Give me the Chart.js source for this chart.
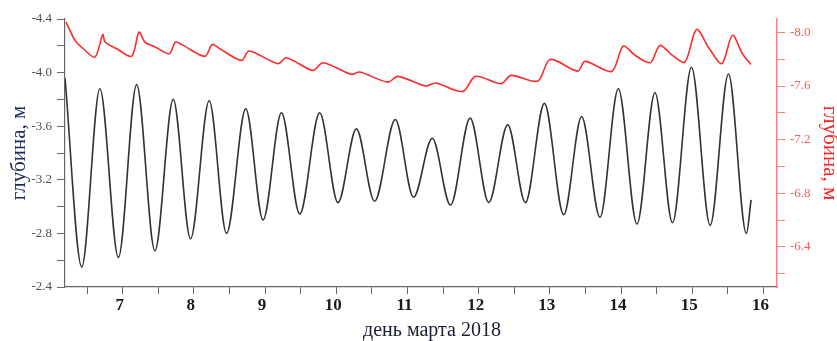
<!DOCTYPE html>
<html>
<head>
<meta charset="utf-8">
<script src="https://cdn.jsdelivr.net/npm/chart.js@4"></script>
<style>
  html, body { margin: 0; padding: 0; background: #ffffff; }
  #wrap { width: 837px; height: 341px; }
</style>
</head>
<body>
<div id="wrap"><canvas id="c" width="837" height="341"></canvas></div>
<script>
// ---- data ----
const blackDays = [6.19, 6.425, 6.68, 6.94, 7.196, 7.453, 7.71, 7.953, 8.215, 8.459, 8.729, 8.972, 9.23, 9.487, 9.767, 10.024, 10.282, 10.538, 10.829, 11.085, 11.348, 11.604, 11.88, 12.142, 12.408, 12.656, 12.923, 13.194, 13.446, 13.704, 13.961, 14.223, 14.476, 14.722, 14.989, 15.251, 15.508, 15.76, 15.826];
const blackDepth = [-3.96, -2.55, -3.88, -2.62, -3.91, -2.67, -3.80, -2.76, -3.79, -2.80, -3.73, -2.90, -3.70, -2.945, -3.70, -3.03, -3.58, -3.04, -3.65, -3.07, -3.51, -3.01, -3.66, -3.03, -3.61, -3.03, -3.77, -2.94, -3.67, -2.92, -3.88, -2.87, -3.85, -2.88, -4.04, -2.86, -3.99, -2.80, -3.05];

const redDays = [6.205, 6.33, 6.447, 6.61, 6.72, 6.752, 6.916, 7.126, 7.229, 7.313, 7.477, 7.654, 7.743, 7.85, 8.154, 8.257, 8.365, 8.669, 8.776, 9.18, 9.30, 9.673, 9.813, 10.21, 10.328, 10.725, 10.865, 11.254, 11.394, 11.777, 11.955, 12.315, 12.455, 12.83, 13.003, 13.39, 13.494, 13.867, 14.03, 14.2, 14.41, 14.545, 14.72, 14.896, 15.059, 15.24, 15.415, 15.564, 15.704, 15.822];
const redDepth = [-8.077, -7.94, -7.878, -7.816, -7.983, -7.928, -7.878, -7.823, -8.002, -7.928, -7.886, -7.841, -7.928, -7.903, -7.821, -7.910, -7.878, -7.791, -7.861, -7.766, -7.811, -7.716, -7.774, -7.687, -7.704, -7.629, -7.672, -7.600, -7.622, -7.560, -7.672, -7.617, -7.679, -7.637, -7.798, -7.711, -7.784, -7.709, -7.898, -7.828, -7.774, -7.903, -7.828, -7.778, -8.022, -7.878, -7.766, -7.978, -7.841, -7.761];

const xTicks = [6.5, 7, 7.5, 8, 8.5, 9, 9.5, 10, 10.5, 11, 11.5, 12, 12.5, 13, 13.5, 14, 14.5, 15, 15.5, 16];
const xLabels = ['', '7', '', '8', '', '9', '', '10', '', '11', '', '12', '', '13', '', '14', '', '15', '', '16'];
const leftTicks = [-4.4, -4.2, -4.0, -3.8, -3.6, -3.4, -3.2, -3.0, -2.8, -2.6, -2.4];
const leftLabels = ['-4.4', '', '-4.0', '', '-3.6', '', '-3.2', '', '-2.8', '', '-2.4'];
const rightTicks = [-8.0, -7.8, -7.6, -7.4, -7.2, -7.0, -6.8, -6.6, -6.4, -6.2];
const rightLabels = ['-8.0', '', '-7.6', '', '-7.2', '', '-6.8', '', '-6.4', ''];

const xTitle = 'день марта 2018';
const yTitle = 'глубина, м';

// ---- build ----
const blackPts = blackDays.map((d, i) => ({x: d, y: blackDepth[i]}));
const redPts = redDays.map((d, i) => ({x: d, y: redDepth[i]}));
const serif = 'Liberation Serif';

// x-axis title, drawn as canvas text slightly right of centre as in the reference
const xTitlePlugin = {
  id: 'xTitle',
  afterDraw(chart) {
    const ctx = chart.ctx;
    const xs = chart.scales.x;
    ctx.save();
    ctx.font = '20px "' + serif + '"';
    ctx.fillStyle = '#1b1d33';
    ctx.textAlign = 'center';
    ctx.textBaseline = 'middle';
    ctx.fillText(xTitle, (xs.left + xs.right) / 2 + 11, xs.bottom - 10);
    ctx.restore();
  }
};

new Chart(document.getElementById('c'), {
  type: 'line',
  data: {
    datasets: [
      { data: blackPts, yAxisID: 'y', borderColor: '#333333', borderWidth: 1.6,
        pointRadius: 0, cubicInterpolationMode: 'monotone', fill: false },
      { data: redPts, yAxisID: 'y2', borderColor: '#ff2b2b', borderWidth: 1.6,
        pointRadius: 0, tension: 0.3, fill: false }
    ]
  },
  plugins: [xTitlePlugin],
  options: {
    responsive: false,
    animation: false,
    devicePixelRatio: 1,
    layout: { padding: { top: 19, left: 0, right: 0, bottom: 0 } },
    plugins: { legend: { display: false }, tooltip: { enabled: false } },
    scales: {
      x: {
        type: 'linear', position: 'bottom', min: 6.19, max: 16.19,
        afterBuildTicks: s => { s.ticks = xTicks.map(v => ({value: v})); },
        afterFit: s => { s.height = 54; },
        grid: { drawOnChartArea: false, drawTicks: true, tickLength: 7, color: '#666666', lineWidth: 1 },
        border: { display: true, color: '#666666', width: 1.2 },
        ticks: { autoSkip: false, maxRotation: 0, padding: 1, labelOffset: -3,
          color: '#1a1a1a', font: { family: serif, size: 17, weight: 'bold' },
          callback: (v, i) => xLabels[i] },
        title: { display: false }
      },
      y: {
        type: 'linear', position: 'left', min: -4.4, max: -2.4, reverse: true,
        afterBuildTicks: s => { s.ticks = leftTicks.map(v => ({value: v})); },
        afterFit: s => { s.width = 65; },
        grid: { drawOnChartArea: false, drawTicks: true, tickLength: 8, color: '#666666', lineWidth: 1 },
        border: { display: true, color: '#666666', width: 1.2 },
        ticks: { autoSkip: false, padding: 5, color: '#505050',
          font: { family: serif, size: 13 }, callback: (v, i) => leftLabels[i] },
        title: { display: true, text: yTitle, color: '#1e2a5a',
          font: { family: serif, size: 21, lineHeight: 1 }, padding: { top: 8.5, bottom: 0 } }
      },
      y2: {
        type: 'linear', position: 'right', min: -8.1, max: -6.1, reverse: true,
        afterBuildTicks: s => { s.ticks = rightTicks.map(v => ({value: v})); },
        afterFit: s => { s.width = 60; },
        grid: { drawOnChartArea: false, drawTicks: true, tickLength: 8, color: '#ff8080', lineWidth: 1 },
        border: { display: true, color: '#ff8080', width: 1.4 },
        ticks: { autoSkip: false, padding: 5, color: '#ff5a5a',
          font: { family: serif, size: 13 }, callback: (v, i) => rightLabels[i] },
        title: { display: true, text: yTitle, color: '#ff2020',
          font: { family: serif, size: 21, lineHeight: 1 }, padding: { top: -3, bottom: 0 } }
      }
    }
  }
});
</script>
</body>
</html>
